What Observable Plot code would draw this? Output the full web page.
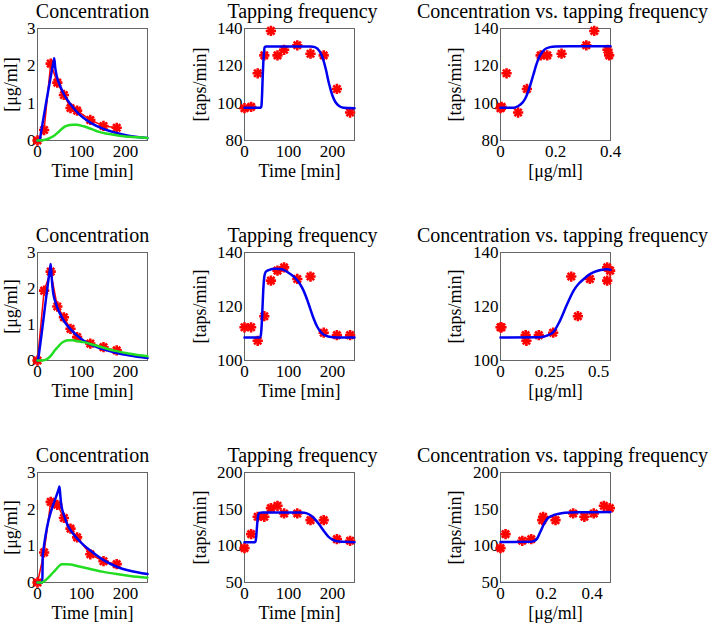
<!DOCTYPE html>
<html><head><meta charset="utf-8">
<script src="https://cdn.jsdelivr.net/npm/d3@7"></script>
<script src="https://cdn.jsdelivr.net/npm/@observablehq/plot@0.6"></script>
<style>
body{margin:0;background:#fff;}
#wrap{position:relative;width:709px;height:626px;overflow:hidden;background:#fff;}
#wrap svg{position:absolute;overflow:visible;font-family:"Liberation Serif","Times New Roman",Times,serif !important;}
#wrap svg text{font-family:"Liberation Serif","Times New Roman",Times,serif !important;}
</style></head><body><div id="wrap"></div>
<script>
// ---------- data ----------
const sampleTimes = [0,15,30,45,60,75,90,120,150,180,210,240];
const concTimes = [0,15,30,45,60,75,90,120,150,180];

// subject 1
const conc1 = [0, 0.28, 2.06, 1.55, 1.22, 0.87, 0.80, 0.55, 0.39, 0.34];
const tap1 = [97.3, 98.0, 116.0, 125.6, 138.7, 125.6, 128.6, 131.0, 126.5, 125.6, 107.6, 95.0];
const eff1 = [0.0, 0.004, 0.022, 0.146, 0.341, 0.395, 0.389, 0.312, 0.222, 0.17, 0.096, 0.064];
const model1 = [[0,0],[5,0],[6,0.07],[37,2.14],[38,2.2],[40,1.98],[42,1.82],[45,1.66],[50,1.5],[60,1.24],[75,0.97],[90,0.76],[105,0.6],[120,0.48],[150,0.31],[180,0.2],[210,0.12],[250,0.07]];
const effect1 = [[0,0],[10,0.005],[20,0.03],[30,0.08],[40,0.15],[47,0.22],[55,0.31],[62,0.37],[70,0.41],[80,0.425],[90,0.42],[105,0.38],[122,0.31],[140,0.23],[160,0.18],[180,0.14],[200,0.11],[225,0.09],[250,0.07]];
const tapModel1 = [[0,97.5],[37,97.5],[38.5,98.5],[40,105],[41.5,115],[43,123],[44.5,128],[46,130],[49,130.4],[150,130.4],[160,130],[170,128],[178,124],[185,118],[192,110.5],[200,104],[207,100.5],[215,98.5],[225,97.6],[250,97.3]];
const pkpd1 = [[0,97.5],[0.05,97.6],[0.065,98.5],[0.08,100.3],[0.09,102.5],[0.1,106],[0.11,110.5],[0.12,115.5],[0.13,120.5],[0.14,124.5],[0.15,127],[0.16,128.7],[0.18,130],[0.2,130.4],[0.25,130.5],[0.4,130.5]];

// subject 2
const conc2 = [0, 1.94, 2.47, 1.5, 1.2, 0.88, 0.65, 0.47, 0.37, 0.28];
const tap2 = [112.3, 112.3, 107.3, 116.4, 129.6, 133.3, 134.5, 130.2, 131.1, 110.3, 109.4, 109.4];
const eff2 = [0, 0.005, 0.132, 0.394, 0.543, 0.558, 0.543, 0.455, 0.36, 0.268, 0.195, 0.128];
const model2 = [[0,0],[1,0],[2,0.08],[29,2.6],[30,2.68],[32,2.35],[34,2.05],[36,1.85],[40,1.65],[45,1.47],[50,1.33],[60,1.1],[75,0.87],[90,0.69],[105,0.55],[120,0.45],[150,0.31],[180,0.21],[210,0.14],[250,0.07]];
const effect2 = [[0,0],[15,0.01],[20,0.03],[25,0.07],[30,0.13],[35,0.21],[40,0.29],[45,0.36],[50,0.43],[55,0.49],[62,0.54],[70,0.56],[80,0.56],[90,0.54],[105,0.51],[120,0.46],[140,0.39],[160,0.32],[180,0.26],[210,0.19],[250,0.12]];
const tapModel2 = [[0,108.5],[35,108.5],[37,109.3],[39,113],[41,120],[43,127],[45,131],[48,132.8],[55,133.5],[70,134],[85,133.8],[100,132.5],[115,130.6],[125,128.6],[135,125.6],[145,121.3],[155,116.5],[165,112.6],[175,110.2],[190,108.9],[210,108.5],[250,108.5]];
const pkpd2 = [[0,108.5],[0.2,108.6],[0.24,109.3],[0.27,110.6],[0.3,114.3],[0.34,121],[0.373,126],[0.4,128.6],[0.424,130.2],[0.45,131.7],[0.475,132.7],[0.51,133.5],[0.543,133.8],[0.56,133.6]];

// subject 3
const conc3 = [0, 0.82, 2.2, 2.12, 1.76, 1.47, 1.23, 0.77, 0.58, 0.5];
const tap3 = [96.9, 116, 139.6, 139.6, 151.4, 154.6, 144.1, 144.1, 135, 135, 109.1, 106.9];
const eff3 = [0, 0.022, 0.186, 0.366, 0.477, 0.451, 0.407, 0.317, 0.24, 0.182, 0.134, 0.095];
const model3 = [[0,0],[11,0],[11.5,0.4],[12,0.75],[49,2.58],[50,2.62],[52,2.35],[54,2.12],[57,1.95],[60,1.84],[67,1.6],[75,1.43],[90,1.2],[105,1.02],[120,0.87],[150,0.61],[180,0.43],[210,0.32],[250,0.23]];
const effect3 = [[0,0],[10,0],[20,0.08],[30,0.2],[40,0.33],[50,0.46],[55,0.5],[65,0.5],[75,0.49],[90,0.45],[120,0.37],[150,0.29],[180,0.23],[210,0.18],[250,0.13]];
const tapModel3 = [[0,105],[24,105],[25.5,107],[27,115],[28.5,127],[30,137],[31.5,142.5],[34,145],[40,145.5],[130,145.5],[140,144.6],[150,141.8],[160,136.5],[170,129],[180,120.5],[190,113],[200,108.5],[215,105.8],[250,105]];
const pkpd3 = [[0,105.3],[0.13,105.5],[0.145,106.5],[0.16,110],[0.175,120],[0.19,130],[0.205,137],[0.225,141],[0.25,143.5],[0.28,145.2],[0.33,145.8],[0.48,146]];

// ticks & labels
const timeTicks = [0,100,200];
const concTicks = [0,1,2,3];
const tapTicks1 = [80,100,120,140];
const tapTicks2 = [100,120,140];
const tapTicks3 = [50,100,150,200];
const effTicks1 = [0,0.2,0.4];
const effTicks2 = [0,0.25,0.5];
const effTicks3 = [0,0.2,0.4];
const titles = ["Concentration","Tapping frequency","Concentration vs. tapping frequency"];
const xLabels = ["Time [min]","Time [min]","[\u03bcg/ml]"];
const yLabels = ["[\u03bcg/ml]","[taps/min]","[taps/min]"];

// ---------- drawing ----------
const SERIF = "'Liberation Serif','Times New Roman',Times,serif";
const RED = "#ff0000", BLUE = "#0000f0", GREEN = "#22dd22";
const wrap = document.getElementById("wrap");
const cols = [
  {left:0, w:200, ml:37, mr:53, yl:26, tdx:0},
  {left:200, w:220, ml:44, mr:66, yl:44, tdx:3},
  {left:420, w:289, ml:80, mr:99, yl:45, tdx:7}
];
const rows = [
  {top:0, h:200, mt:28, mb:60},
  {top:200, h:220, mt:52, mb:60},
  {top:420, h:206, mt:52, mb:44}
];
const pts = (xs, ys) => xs.map((x, i) => ({x, y: ys[i]}));
const pairs = a => a.map(([x, y]) => ({x, y}));

function stars(data) {
  return [
    Plot.dot(data, {x: "x", y: "y", symbol: "plus", r: 3.4, stroke: RED, strokeWidth: 2.6}),
    Plot.dot(data, {x: "x", y: "y", symbol: "times", r: 3.4, stroke: RED, strokeWidth: 2.6})
  ];
}
function curve(data, color, w) {
  return Plot.line(data, {x: "x", y: "y", stroke: color, strokeWidth: w, curve: "monotone-x"});
}

function panel(col, row, cfg) {
  const C = cols[col], R = rows[row];
  const svg = Plot.plot({
    width: C.w, height: R.h,
    marginLeft: C.ml, marginRight: C.mr, marginTop: R.mt, marginBottom: R.mb,
    style: {fontFamily: SERIF, background: "transparent", overflow: "visible", color: "#000"},
    x: {domain: cfg.xDomain},
    y: {domain: cfg.yDomain},
    marks: [
      Plot.frame({stroke: "#666", strokeWidth: 1}),
      Plot.axisX({ticks: cfg.xTicks, tickFormat: d => String(d), tickSize: 0, tickPadding: 4, fontSize: 17, label: null}),
      Plot.axisY({ticks: cfg.yTicks, tickFormat: d => String(d), tickSize: 0, tickPadding: 2, fontSize: 17, label: null}),
      ...cfg.marks,
      Plot.text([titles[col]], {text: d => d, frameAnchor: "top", dx: C.tdx, dy: -11, lineAnchor: "bottom", textAnchor: "middle", fontSize: 20}),
      Plot.text([xLabels[col]], {text: d => d, frameAnchor: "bottom", dy: 36, lineAnchor: "bottom", textAnchor: "middle", fontSize: 18}),
      Plot.text([yLabels[col]], {text: d => d, frameAnchor: "left", dx: -C.yl, rotate: -90, textAnchor: "middle", lineAnchor: "middle", fontSize: 18})
    ]
  });
  svg.style.left = C.left + "px";
  svg.style.top = R.top + "px";
  wrap.appendChild(svg);
}

const subjects = [
  {conc: conc1, tap: tap1, eff: eff1, model: model1, effect: effect1, tapModel: tapModel1, pkpd: pkpd1, tapTicks: tapTicks1, tapDomain: [80,140], effTicks: effTicks1, effDomain: [0,0.4]},
  {conc: conc2, tap: tap2, eff: eff2, model: model2, effect: effect2, tapModel: tapModel2, pkpd: pkpd2, tapTicks: tapTicks2, tapDomain: [100,140], effTicks: effTicks2, effDomain: [0,0.56]},
  {conc: conc3, tap: tap3, eff: eff3, model: model3, effect: effect3, tapModel: tapModel3, pkpd: pkpd3, tapTicks: tapTicks3, tapDomain: [50,200], effTicks: effTicks3, effDomain: [0,0.48]}
];

subjects.forEach((s, r) => {
  const cData = pts(concTimes, s.conc);
  panel(0, r, {
    xDomain: [0,250], yDomain: [0,3], xTicks: timeTicks, yTicks: concTicks,
    marks: [
      Plot.line(cData, {x: "x", y: "y", stroke: RED, strokeWidth: 1.5}),
      ...stars(cData),
      curve(pairs(s.model), BLUE, 2.5),
      curve(pairs(s.effect), GREEN, 2.5)
    ]
  });
  panel(1, r, {
    xDomain: [0,250], yDomain: s.tapDomain, xTicks: timeTicks, yTicks: s.tapTicks,
    marks: [
      ...stars(pts(sampleTimes, s.tap)),
      curve(pairs(s.tapModel), BLUE, 2.5)
    ]
  });
  panel(2, r, {
    xDomain: s.effDomain, yDomain: s.tapDomain, xTicks: s.effTicks, yTicks: s.tapTicks,
    marks: [
      ...stars(pts(s.eff, s.tap)),
      curve(pairs(s.pkpd), BLUE, 2.5)
    ]
  });
});
</script>
</body></html>
